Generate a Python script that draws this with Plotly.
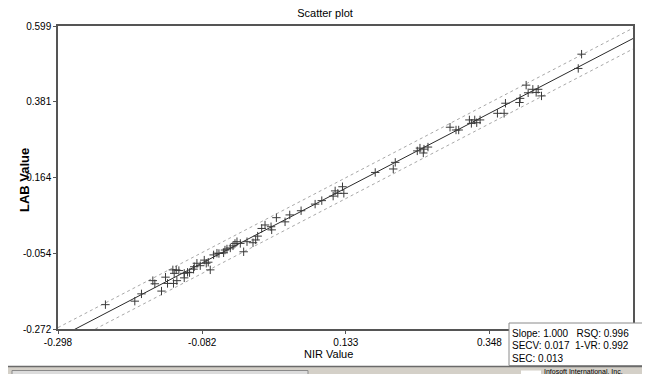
import plotly.graph_objects as go

# ---- data ----
nir = [-0.227, -0.183, -0.173, -0.156, -0.153, -0.143, -0.137, -0.134, -0.126, -0.124,
       -0.121, -0.125, -0.120, -0.117, -0.109, -0.109, -0.104, -0.101, -0.095, -0.094,
       -0.090, -0.085, -0.079, -0.076, -0.073, -0.070, -0.065, -0.060, -0.057, -0.050,
       -0.048, -0.045, -0.040, -0.036, -0.033, -0.030, -0.025, -0.020, -0.015, -0.006,
       -0.002, 0.001, 0.007, 0.012, 0.021, 0.022, 0.029, 0.042, 0.049, 0.066,
       0.087, 0.097, 0.114, 0.117, 0.121, 0.128, 0.130, 0.177, 0.204, 0.207,
       0.240, 0.244, 0.250, 0.256, 0.249, 0.289, 0.298, 0.302, 0.318, 0.321,
       0.326, 0.329, 0.334, 0.360, 0.370, 0.372, 0.393, 0.394, 0.403, 0.406,
       0.413, 0.418, 0.421, 0.426, 0.481, 0.486]
lab = [-0.202, -0.192, -0.171, -0.133, -0.142, -0.163, -0.123, -0.141, -0.102, -0.112,
       -0.102, -0.141, -0.133, -0.104, -0.112, -0.125, -0.109, -0.110, -0.100, -0.093,
       -0.083, -0.090, -0.074, -0.083, -0.080, -0.102, -0.059, -0.054, -0.055, -0.053,
       -0.045, -0.042, -0.039, -0.033, -0.026, -0.021, -0.026, -0.050, -0.021, -0.024,
       -0.016, -0.005, 0.017, 0.027, 0.022, 0.013, 0.048, 0.036, 0.056, 0.068,
       0.087, 0.097, 0.110, 0.125, 0.118, 0.137, 0.118, 0.178, 0.188, 0.207,
       0.240, 0.248, 0.245, 0.251, 0.234, 0.308, 0.300, 0.300, 0.329, 0.319,
       0.329, 0.321, 0.329, 0.348, 0.348, 0.377, 0.379, 0.391, 0.429, 0.407,
       0.417, 0.408, 0.417, 0.398, 0.477, 0.518]

slope = 1.000
intercept = 0.0
band = 0.030

x_ticks = [-0.298, -0.082, 0.133, 0.348]
y_ticks = [-0.272, -0.054, 0.164, 0.381, 0.599]
x_range = [-0.298, 0.563]
y_range = [-0.272, 0.599]

stats_lines = ["Slope: 1.000&nbsp;&nbsp;&nbsp;RSQ: 0.996",
               "SECV: 0.017&nbsp;&nbsp;1-VR: 0.992",
               "SEC: 0.013"]

FONT = "Liberation Sans, Arial, sans-serif"

# layout geometry (window pixels; page body adds an 8px offset)
OFF = 8
W, H = 650 - OFF, 374 - OFF
L, R, T, B = 58, 633, 26, 329


def px(xp):
    return (xp - L) / (R - L)


def py(yp):
    return (B - yp) / (B - T)


fig = go.Figure()

lx = x_range
fig.add_trace(go.Scatter(x=lx, y=[slope * v + intercept + band for v in lx], mode="lines",
                         line=dict(color="#a8a8a8", width=1, dash="3px,3px"),
                         hoverinfo="skip", showlegend=False))
fig.add_trace(go.Scatter(x=lx, y=[slope * v + intercept - band for v in lx], mode="lines",
                         line=dict(color="#a8a8a8", width=1, dash="3px,3px"),
                         hoverinfo="skip", showlegend=False))
fig.add_trace(go.Scatter(x=lx, y=[slope * v + intercept for v in lx], mode="lines",
                         line=dict(color="#2a2a2a", width=1),
                         hoverinfo="skip", showlegend=False))
fig.add_trace(go.Scatter(x=nir, y=lab, mode="markers",
                         marker=dict(symbol="cross-thin", size=6,
                                     line=dict(color="#3a3a3a", width=1)),
                         showlegend=False))

axis_common = dict(showgrid=False, zeroline=False, showline=True, mirror=True,
                   linecolor="#555555", linewidth=1.5, ticks="outside", ticklen=3,
                   tickcolor="#555555", automargin=False,
                   tickfont=dict(family=FONT, size=10, color="#000"))

fig.update_xaxes(range=x_range, tickvals=x_ticks, ticktext=[f"{v:.3f}" for v in x_ticks],
                 **axis_common)
fig.update_yaxes(range=y_range, tickvals=y_ticks, ticktext=[f"{v:.3f}" for v in y_ticks],
                 **axis_common)

fig.update_layout(
    width=W, height=H,
    margin=dict(l=L - OFF, r=650 - R, t=T - OFF, b=374 - B, autoexpand=False),
    paper_bgcolor="white", plot_bgcolor="white",
    title=dict(text="Scatter plot", x=(325 - OFF) / W, xref="container", xanchor="center",
               y=1 - (13 - OFF) / H, yref="container", yanchor="middle",
               font=dict(family=FONT, size=11, color="#000")),
)

# y axis title
fig.add_annotation(text="<b>LAB Value</b>", xref="paper", yref="paper",
                   x=px(25), y=py(180), showarrow=False, textangle=-90,
                   xanchor="center", yanchor="middle",
                   font=dict(family=FONT, size=13, color="#000"))

# x axis title (slightly left of centre, as in reference)
fig.add_annotation(text="NIR Value", xref="paper", yref="paper",
                   x=px(328), y=py(354), showarrow=False,
                   xanchor="center", yanchor="middle",
                   font=dict(family=FONT, size=11, color="#000"))

# bottom status bar
fig.add_shape(type="rect", xref="paper", yref="paper", layer="above",
              x0=px(-10), x1=px(660), y0=py(366), y1=py(390),
              fillcolor="#d4d0c8", line=dict(color="#d4d0c8", width=0))
fig.add_shape(type="line", xref="paper", yref="paper", layer="above",
              x0=px(-10), x1=px(660), y0=py(366.5), y1=py(366.5),
              line=dict(color="#6a6a6a", width=1.5))
fig.add_shape(type="rect", xref="paper", yref="paper", layer="above",
              x0=px(12), x1=px(308), y0=py(370.5), y1=py(380),
              fillcolor="#dcdcdc", line=dict(color="#8a8a8a", width=1))
fig.add_shape(type="rect", xref="paper", yref="paper", layer="above",
              x0=px(521), x1=px(541), y0=py(370.5), y1=py(380),
              fillcolor="#ffffff", line=dict(color="#ffffff", width=0))
fig.add_annotation(text="Infosoft International, Inc.", xref="paper", yref="paper",
                   x=px(543), y=py(366.5), showarrow=False,
                   xanchor="left", yanchor="top", borderpad=0,
                   font=dict(family=FONT, size=7, color="#000"))

# statistics box
fig.add_shape(type="rect", xref="paper", yref="paper", layer="above",
              x0=px(509), x1=px(660), y0=py(365.5), y1=py(323),
              fillcolor="white", line=dict(color="#8a8a8a", width=1))
for i, t in enumerate(stats_lines):
    fig.add_annotation(text=t, xref="paper", yref="paper",
                       x=px(510), y=py(333 + 12.5 * i),
                       showarrow=False, xanchor="left", yanchor="middle",
                       font=dict(family=FONT, size=10, color="#000"))

fig.write_html("out.html")
